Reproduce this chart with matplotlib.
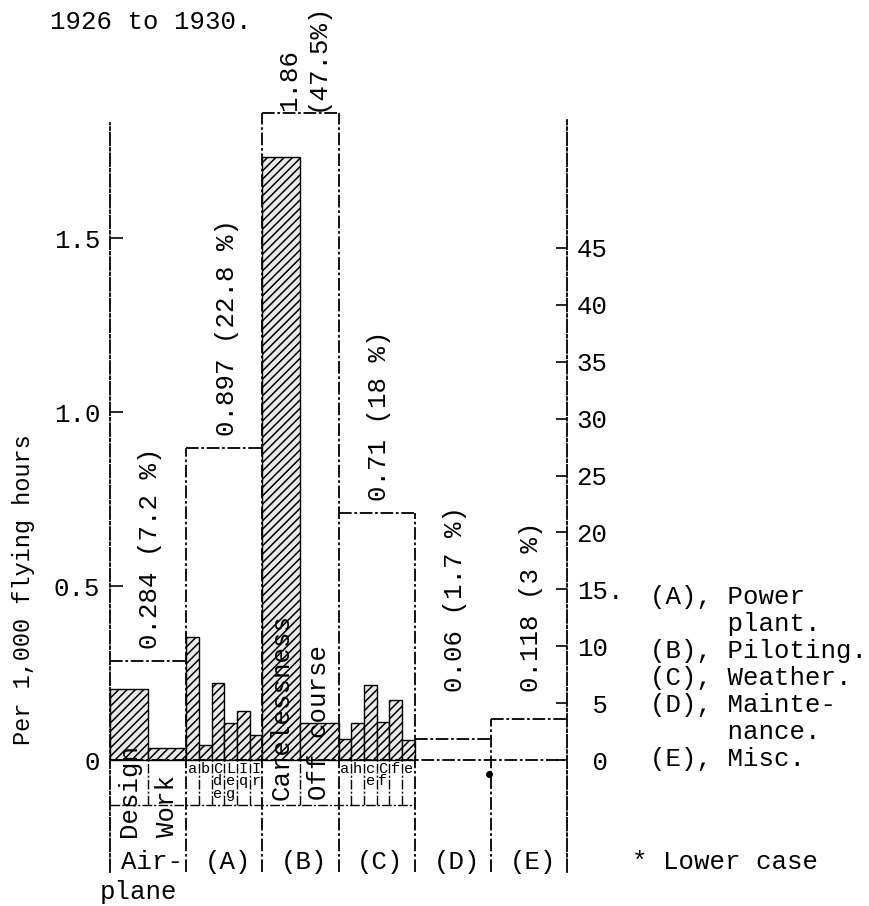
import matplotlib.pyplot as plt
import numpy as np

plt.rcParams['font.family'] = ['Liberation Mono', 'DejaVu Sans Mono']
plt.rcParams['font.size'] = 18.5
plt.rcParams['hatch.linewidth'] = 1.1

# main groups (per 1,000 flying hours)
groups = ['Air-', '(A)', '(B)', '(C)', '(D)', '(E)']
group_totals = [0.284, 0.897, 1.86, 0.71, 0.06, 0.118]
group_notes = ['0.284 (7.2 %)', '0.897 (22.8 %)', '1.86\n(47.5%)',
               '0.71 (18 %)', '0.06 (1.7 %)', '0.118 (3 %)']

# sub causes inside groups
airplane_causes = ['Design', 'Work']
airplane_values = [0.205, 0.034]
power_causes = ['a', 'b', 'Cde', 'Leg', 'Iq', 'Ir']
power_values = [0.353, 0.043, 0.22, 0.106, 0.14, 0.072]
piloting_causes = ['Carelessness', 'Off course']
piloting_values = [1.733, 0.106]
weather_causes = ['a', 'h', 'ce', 'Cf', 'f', 'e']
weather_values = [0.06, 0.106, 0.215, 0.11, 0.172, 0.057]

left_ticks = [0, 0.5, 1.0, 1.5]
left_ticklabels = ['0', '0.5', '1.0', '1.5']
right_ticks = [0, 5, 10, 15, 20, 25, 30, 35, 40, 45]
right_ticklabels = [' 0', ' 5', '10', '15.', '20', '25', '30', '35', '40', '45']

legend_lines = ['(A), Power', '     plant.', '(B), Piloting.', '(C), Weather.',
                '(D), Mainte-', '     nance.', '(E), Misc.']

dash = (0, (7, 1.5, 1.5, 1.5))
lw = 1.3
bottom = -0.322
label_line = -0.129

fig = plt.figure(figsize=(8.69, 9.06), dpi=100)
ax = fig.add_axes([0.1266, 0.0075, 0.5259, 0.8834])
ax.set_xlim(0, 6)
ax.set_ylim(-0.40, 1.90)

# hatched sub-cause bars
sub_sets = [(0, airplane_causes, airplane_values),
            (1, power_causes, power_values),
            (2, piloting_causes, piloting_values),
            (3, weather_causes, weather_values)]
for gi, names, vals in sub_sets:
    n = len(vals)
    edges = gi + np.arange(n) / n
    ax.bar(edges, vals, width=1 / n, align='edge', facecolor='#e9e9e9',
           edgecolor='black', hatch='////', linewidth=1.0)
    for e in edges[1:]:
        ax.vlines(e, label_line, 0, colors='black', linestyles=dash, lw=1.0)
    for e, name in zip(edges, names):
        if len(name) > 3:
            ax.text(e + 0.5 / n, -0.115 if gi == 2 else -0.22, name,
                    rotation=90, ha='center', va='bottom')
        else:
            ax.text(e + 0.5 / n, -0.006, '\n'.join(name), ha='center',
                    va='top', fontsize=11, linespacing=0.85)

# group outline boxes
ax.hlines(group_totals, np.arange(6), np.arange(6) + 1, colors='black',
          linestyles=dash, lw=lw)
for i in range(1, 6):
    top = max(group_totals[i - 1], group_totals[i])
    ax.vlines(i, bottom, top, colors='black', linestyles=dash, lw=lw)

ax.hlines(0, 0, 6.1, colors='black', linestyles=dash, lw=lw)
ax.hlines(label_line, 0, 4, colors='black', linestyles=dash, lw=1.0)

# value notes above boxes
for i, note in enumerate(group_notes):
    y = group_totals[i] + 0.035
    if i == 2:
        y = group_totals[i] + 0.005
    if i >= 4:
        y = 0.195
    ax.text(i + 0.53, y, note, rotation=90, ha='center', va='bottom',
            multialignment='left')

# group labels
for i, g in enumerate(groups):
    ax.text(i + 0.55, -0.293, g, ha='center', va='center')
ax.text(-0.14, -0.38, 'plane', ha='left', va='center')
ax.plot([4.98], [-0.04], 'o', color='black', ms=4)

for side in ['top', 'bottom', 'right']:
    ax.spines[side].set_visible(False)
ax.spines['left'].set_bounds(bottom, 1.83)
ax.spines['left'].set_linestyle(dash)
ax.spines['left'].set_linewidth(lw)
ax.set_xticks([])
ax.set_yticks(left_ticks)
ax.set_yticklabels(left_ticklabels)
ax.tick_params(axis='y', direction='in', length=9, width=1.2, pad=7)
ax.set_ylabel('Per 1,000 flying hours', fontsize=17)
ax.yaxis.set_label_coords(-0.165, (0.49 + 0.40) / 2.30)

# percent scale on the right
scale = 348 / 11.38
ax2 = ax.twinx()
ax2.set_ylim(-0.40 * scale, 1.90 * scale)
for side in ['top', 'bottom', 'left']:
    ax2.spines[side].set_visible(False)
ax2.spines['right'].set_bounds(bottom * scale, 1.84 * scale)
ax2.spines['right'].set_linestyle(dash)
ax2.spines['right'].set_linewidth(lw)
ax2.set_yticks(right_ticks)
ax2.set_yticklabels(right_ticklabels)
ax2.tick_params(axis='y', direction='in', length=8, width=1.2, pad=7)

fig.text(50 / 869, 1 - 22 / 906, '1926 to 1930.', ha='left', va='center')
for k, line in enumerate(legend_lines):
    fig.text(650 / 869, 1 - (597 + 27 * k) / 906, line, ha='left', va='center')
fig.text(632 / 869, 1 - 862 / 906, '* Lower case', ha='left', va='center')

fig.savefig('out.png', dpi=100)
